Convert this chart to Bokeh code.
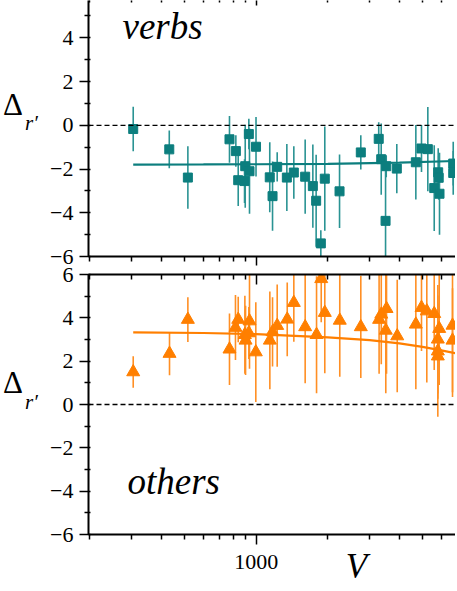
from bokeh.plotting import figure
from bokeh.layouts import column, row
from bokeh.models import (Range1d, FixedTicker, LogAxis, Span, Label, Div,
                          PrintfTickFormatter, ColumnDataSource)
from bokeh.embed import file_html
from bokeh.resources import INLINE

# ---------------- data ----------------
verbs_V = [304, 431, 516, 772, 821, 840, 893, 899, 931, 937, 998, 1140, 1171, 1225,
           1345, 1439, 1606, 1730, 1786, 1869, 1942, 2240, 2752, 3273, 3353, 3497,
           3520, 3899, 4688, 4952, 5265, 5601, 5821, 5850, 5895, 6732, 6732]
verbs_delta = [-0.17, -1.10, -2.39, -0.64, -1.18, -2.51, -2.55, -1.87, -0.40, -2.10,
               -0.98, -2.38, -3.24, -1.90, -2.39, -2.16, -2.35, -2.78, -3.45, -5.40,
               -2.44, -3.02, -1.24, -0.62, -1.55, -4.37, -1.87, -1.98, -1.69, -1.06,
               -1.09, -2.87, -2.15, -2.40, -3.13, -1.75, -2.18]
verbs_err = [1.02, 0.86, 1.43, 1.07, 0.72, 1.18, 1.00, 1.90, 0.70, 1.95, 1.36, 1.60,
             1.58, 0.67, 1.53, 1.20, 1.70, 1.90, 2.10, 0.60, 2.38, 1.68, 0.78, 0.76,
             1.63, 2.30, 0.50, 1.13, 1.70, 1.07, 1.93, 1.96, 1.10, 1.00, 1.88, 1.00, 1.00]
verbs_fit_V = [304, 600, 1000, 2000, 4000, 7000]
verbs_fit_delta = [-1.80, -1.79, -1.78, -1.76, -1.71, -1.63]

others_V = [304, 432, 516, 772, 818, 840, 896, 902, 931, 937, 996, 1141, 1171, 1225,
            1350, 1439, 1606, 1793, 1876, 1942, 2245, 2752, 3285, 3355, 3505, 3530,
            3915, 4688, 4952, 5213, 5601, 5800, 5800, 5800, 5878, 6686, 6686]
others_delta = [1.50, 2.35, 3.92, 2.55, 3.55, 3.92, 3.22, 2.96, 3.30, 3.85, 2.42, 2.96,
                3.35, 3.64, 3.93, 4.70, 3.58, 3.22, 5.80, 4.24, 3.88, 3.58, 3.92, 4.16,
                3.42, 4.42, 3.16, 3.70, 4.47, 4.31, 4.19, 3.01, 2.46, 2.23, 3.50, 3.65, 2.96]
others_err = [0.73, 1.00, 1.03, 1.65, 1.50, 1.05, 1.80, 1.60, 1.20, 2.20, 2.30, 2.26,
              1.60, 1.90, 1.70, 1.80, 2.60, 2.70, 2.00, 2.80, 2.60, 2.36, 2.50, 2.30,
              2.90, 3.00, 2.60, 3.00, 2.00, 3.30, 2.60, 2.50, 2.20, 2.80, 2.60, 3.30, 2.40]
others_fit_V = [304, 600, 1000, 2000, 3000, 4000, 5000, 6000, 7000]
others_fit_delta = [3.33, 3.30, 3.25, 3.10, 2.97, 2.82, 2.66, 2.50, 2.35]

x_major_ticks = [1000]
x_minor_ticks = [200, 300, 400, 500, 600, 700, 800, 900,
                 2000, 3000, 4000, 5000, 6000, 7000, 8000, 9000]
y_major_ticks = [-6, -4, -2, 0, 2, 4, 6]
y_minor_ticks = [-5, -3, -1, 1, 3, 5]
y_tick_labels = {t: ("\u2212%d" % -t if t < 0 else "%d" % t) for t in y_major_ticks}
x_title = "V"
y_title_main, y_title_sub = "\u0394", "r\u2032"

# ---------------- style ----------------
FONT = "Liberation Serif"
TEAL = "#0C7E7E"
TEAL_BAR = "#2A9393"
ORANGE = "#FF7F00"
ORANGE_BAR = "#FF8F24"
X_LO, X_HI = 197.2, 6882.0
V_TITLE_POS = 2640  # where the italic V sits along the log axis


def style_axis(ax, out=10, tin=0, mout=5, min_=0, labels=True, size="22px", standoff=4):
    ax.axis_line_color = "black"
    ax.axis_line_width = 2
    ax.major_tick_line_color = "black"
    ax.minor_tick_line_color = "black"
    ax.major_tick_line_width = 1.5
    ax.minor_tick_line_width = 1.5
    ax.major_tick_out, ax.major_tick_in = out, tin
    ax.minor_tick_out, ax.minor_tick_in = mout, min_
    ax.major_label_text_font = FONT
    if labels:
        ax.major_label_text_font_size = size
        ax.major_label_text_color = "black"
        ax.major_label_standoff = standoff
    else:
        ax.major_label_text_font_size = "1px"
        ax.major_label_text_color = None
        ax.major_label_standoff = 0


def panel(height, y_top, border_top, border_bottom, V, d, e, fitV, fitd,
          color, bar_color, marker, msize, x_labels):
    p = figure(width=409, height=height, x_axis_type="log",
               x_range=Range1d(X_LO, X_HI), y_range=Range1d(-6, y_top),
               output_backend="svg", toolbar_location=None,
               min_border_left=42, min_border_right=0,
               min_border_top=border_top, min_border_bottom=border_bottom)
    p.outline_line_color = None
    p.grid.visible = False
    p.background_fill_color = "white"
    p.border_fill_color = "white"

    xa = p.xaxis[0]
    xa.ticker = FixedTicker(ticks=x_major_ticks, minor_ticks=x_minor_ticks)
    xa.formatter = PrintfTickFormatter(format="%d")
    style_axis(xa, out=9 if not x_labels else 10, tin=0, mout=5, min_=0,
               labels=x_labels, size="22px", standoff=10)
    ya = p.yaxis[0]
    ya.ticker = FixedTicker(ticks=y_major_ticks, minor_ticks=y_minor_ticks)
    ya.major_label_overrides = y_tick_labels
    style_axis(ya, out=9, tin=2, mout=4, min_=2, labels=True, size="22px", standoff=6)

    p.add_layout(Span(location=0, dimension="width", line_color="black",
                      line_dash="5 3", line_width=1.3))

    src = ColumnDataSource(dict(V=V, d=d,
                                lo=[a - b for a, b in zip(d, e)],
                                hi=[a + b for a, b in zip(d, e)]))
    p.segment(x0="V", y0="lo", x1="V", y1="hi", source=src,
              line_color=bar_color, line_width=1.6)
    p.line(fitV, fitd, line_color=color, line_width=2.2)
    p.scatter("V", "d", source=src, marker=marker, size=msize,
              fill_color=color, line_color=color)
    return p


top = panel(266, 5.708, 0, 10, verbs_V, verbs_delta, verbs_err,
            verbs_fit_V, verbs_fit_delta, TEAL, TEAL_BAR, "square", 9, False)
bot = panel(323, 6, 8, 55, others_V, others_delta, others_err,
            others_fit_V, others_fit_delta, ORANGE, ORANGE_BAR, "triangle", 13, True)

# short inward ticks peeking in at the (cropped) top edge of the upper panel
top_edge = LogAxis(ticker=FixedTicker(ticks=x_major_ticks, minor_ticks=x_minor_ticks))
style_axis(top_edge, out=0, tin=5, mout=0, min_=2, labels=False)
top_edge.axis_line_color = None
top.add_layout(top_edge, "above")

# inward ticks along the top edge of the lower panel
top_axis = LogAxis(ticker=FixedTicker(ticks=x_major_ticks, minor_ticks=x_minor_ticks))
style_axis(top_axis, out=0, tin=10, mout=0, min_=5, labels=False)
bot.add_layout(top_axis, "above")

# italic V title as a label-only axis below the tick labels
v_axis = LogAxis(ticker=FixedTicker(ticks=[V_TITLE_POS], minor_ticks=[]))
v_axis.axis_line_color = None
v_axis.major_tick_line_color = None
v_axis.minor_tick_line_color = None
v_axis.major_tick_out = v_axis.major_tick_in = 0
v_axis.minor_tick_out = v_axis.minor_tick_in = 0
v_axis.major_label_overrides = {V_TITLE_POS: x_title}
v_axis.major_label_text_font = FONT
v_axis.major_label_text_font_style = "italic"
v_axis.major_label_text_font_size = "35px"
v_axis.major_label_text_color = "black"
v_axis.major_label_standoff = -25
bot.add_layout(v_axis, "below")


def lab(p, x, y, text, size, italic=False):
    p.add_layout(Label(x=x, y=y, x_units="screen", y_units="screen", text=text,
                       text_font=FONT, text_font_size=size,
                       text_font_style="italic" if italic else "normal",
                       text_color="black", text_baseline="alphabetic",
                       text_align="left"))


lab(top, 34, 230, "verbs", "37px", italic=True)
lab(bot, 39, 53, "others", "37px", italic=True)


def delta_div(h, top_main, top_sub):
    base = "position:absolute;font-family:'Liberation Serif';color:black;white-space:nowrap;"
    html = ('<div style="position:relative;width:46px;height:%dpx;">'
            '<span style="%sleft:3px;top:%dpx;font-size:31px;line-height:31px;">%s</span>'
            '<span style="%sleft:25px;top:%dpx;font-size:21px;line-height:21px;font-style:italic;">%s</span>'
            '</div>') % (h, base, top_main, y_title_main, base, top_sub, y_title_sub)
    return Div(text=html, width=46, height=h, margin=0)


layout = column(row(delta_div(266, 89, 113), top, spacing=0),
                row(delta_div(323, 101, 126), bot, spacing=0),
                spacing=0)
open("out.html", "w").write(file_html(layout, INLINE))
